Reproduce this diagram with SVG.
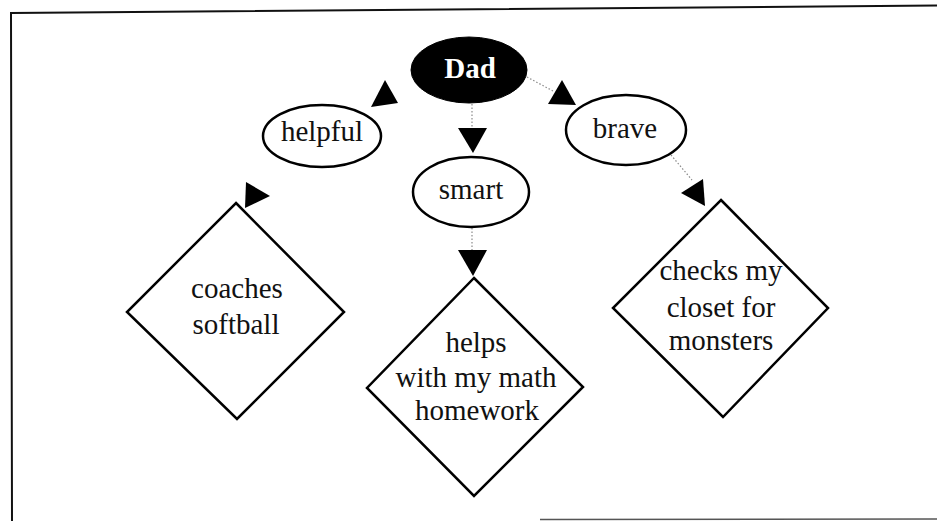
<svg xmlns="http://www.w3.org/2000/svg" width="937" height="521" viewBox="0 0 937 521">
  <style>
    .frame { fill: none; stroke: #111; stroke-width: 2; }
    .oval { fill: #fff; stroke: #000; stroke-width: 2.5; }
    .root { fill: #000; stroke: #000; stroke-width: 1; }
    .dia { fill: #fff; stroke: #000; stroke-width: 2.5; }
    .lbl { font-family: "Liberation Serif", "Times New Roman", serif; font-size: 29px; fill: #111; text-anchor: middle; }
    .rootlbl { font-family: "Liberation Serif", "Times New Roman", serif; font-size: 29px; font-weight: bold; fill: #fff; text-anchor: middle; }
    .dot { fill: none; stroke: #8a8a8a; stroke-width: 1.2; stroke-dasharray: 1.5 2; }
    .head { fill: #000; }
  </style>
  <rect width="937" height="521" fill="#fff"/>
  <path class="frame" d="M937,5.5 L11,13 L12,521"/>
  <line x1="540" y1="519.5" x2="937" y2="519" stroke="#555" stroke-width="1.5"/>

  <g id="connectors">
    <line class="dot" x1="527" y1="77" x2="553" y2="91"/>
    <line class="dot" x1="472" y1="104" x2="472" y2="128"/>
    <line class="dot" x1="472" y1="228" x2="472" y2="250"/>
    <line class="dot" x1="671" y1="155" x2="692" y2="180"/>
    <polygon class="head" points="385,80 371,107 398,103"/>
    <polygon class="head" points="562,80 548,104 576,105"/>
    <polygon class="head" points="458,128 487,128 473,153"/>
    <polygon class="head" points="458,250 487,250 473,276"/>
    <polygon class="head" points="246,182 270,196 245,208"/>
    <polygon class="head" points="703,179 681,193 705,206"/>
  </g>

  <g id="dad">
    <ellipse class="root" cx="469" cy="70" rx="58" ry="33"/>
    <text class="rootlbl" x="470" y="78">Dad</text>
  </g>
  <g id="helpful">
    <ellipse class="oval" cx="322" cy="136" rx="59" ry="31"/>
    <text class="lbl" x="322" y="141">helpful</text>
  </g>
  <g id="smart">
    <ellipse class="oval" cx="471" cy="192" rx="58" ry="35"/>
    <text class="lbl" x="471" y="199">smart</text>
  </g>
  <g id="brave">
    <ellipse class="oval" cx="626" cy="130" rx="60" ry="35"/>
    <text class="lbl" x="625" y="138">brave</text>
  </g>
  <g id="coaches">
    <polygon class="dia" points="236,203 344,312 237,419 127,312"/>
    <text class="lbl" x="237" y="298">coaches</text>
    <text class="lbl" x="236" y="334">softball</text>
  </g>
  <g id="helps">
    <polygon class="dia" points="474,278 583,387 474,496 367,388"/>
    <text class="lbl" x="476" y="352">helps</text>
    <text class="lbl" x="476" y="387">with my math</text>
    <text class="lbl" x="477" y="420">homework</text>
  </g>
  <g id="checks">
    <polygon class="dia" points="721,200 828,308 723,417 613,308"/>
    <text class="lbl" x="721" y="280">checks my</text>
    <text class="lbl" x="721" y="317">closet for</text>
    <text class="lbl" x="721" y="350">monsters</text>
  </g>
</svg>
